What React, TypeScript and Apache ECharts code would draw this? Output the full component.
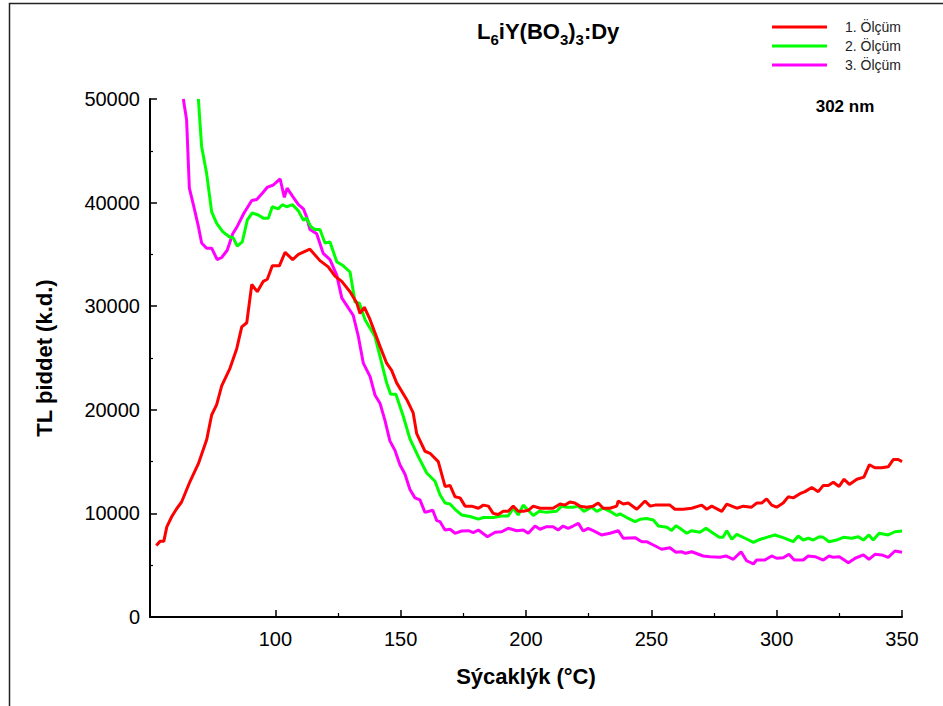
import React, { useEffect, useRef } from "react";
import * as echarts from "echarts";

// Temperature (°C) and TL intensity (a.u.) pairs for the three measurements
const olcum1: [number, number][] = [
  [52.5, 6900], [54, 7300], [55.5, 7300], [56.7, 8700], [58.7, 9700], [60.5, 10400], [62.6, 11100],
  [66, 13100], [69.3, 14800], [72.6, 17100], [74.6, 19500], [76.6, 20500], [78.6, 22300], [81.9, 24000],
  [84.6, 25900], [86.6, 28000], [88.6, 28400], [90.6, 32100], [92.8, 31400], [95.2, 32400], [96.8, 32600],
  [98.8, 33900], [101.6, 33900], [103.9, 35200], [106.9, 34500], [109.2, 35000], [113.8, 35500],
  [117.8, 34400], [121.1, 33800], [123.8, 32900], [126.5, 32400], [129.8, 31400], [132.5, 30300],
  [133.8, 29300], [135.5, 29900], [137.8, 28700], [141.8, 26100], [144.4, 24500], [146.4, 23800],
  [148.4, 22600], [152.4, 21000], [155, 19700], [156.4, 17700], [159.7, 16000], [161.7, 15800],
  [165, 15000], [167.7, 12600], [169.7, 12700], [171.7, 11600], [173.7, 11500], [175.7, 10700],
  [178.3, 10700], [181, 10500], [183, 10800], [185, 10700], [186.9, 10000], [188.9, 9900], [190.9, 10200],
  [192.9, 10200], [194.9, 10700], [196.9, 10200], [198.9, 10200], [200.9, 10300], [202.9, 10700],
  [205.6, 10500], [208.2, 10500], [210.8, 10500], [213.6, 10900], [215.6, 10800], [217.5, 11100],
  [219.5, 11000], [221.5, 10700], [224.2, 10600], [226.8, 10700], [228.8, 11000], [230.8, 10500],
  [233.5, 10500], [236.2, 10700], [236.8, 11200], [238.8, 10900], [240.8, 11000], [244.2, 10400],
  [247.5, 11200], [249.5, 10700], [251.5, 10800], [254.1, 10800], [257.4, 10800], [259.4, 10400],
  [262.7, 10400], [266.1, 10500], [270.1, 10800], [272.1, 10400], [274.1, 10700], [278.1, 10200],
  [280.1, 10900], [284.1, 10500], [286.7, 10700], [290, 10600], [292, 11000], [294, 11000], [296, 11400],
  [298, 10800], [300, 10600], [302.6, 11000], [304.6, 11600], [306.6, 11500], [309.3, 11900],
  [311.3, 12100], [314, 12500], [316.6, 12100], [318.6, 12700], [320.6, 12700], [322.6, 13000],
  [324.9, 12600], [326.9, 13300], [329, 12800], [332, 13300], [334.8, 13500], [337, 14700],
  [339.2, 14400], [341.9, 14400], [344.5, 14500], [346.5, 15200], [348.5, 15200], [350, 15000],
];

const olcum2: [number, number][] = [
  [69.3, 50000], [70.6, 45400], [72.6, 42800], [74.6, 39100], [76.6, 38000], [79, 37200], [81.6, 36700],
  [83.2, 36600], [84.8, 35800], [86.8, 36200], [88.8, 38300], [90.8, 39000], [93.2, 38800], [95.2, 38500],
  [97.2, 38500], [98.8, 39600], [101.2, 39400], [102.8, 39800], [104.5, 39600], [106.9, 39800],
  [109.2, 39200], [111.2, 38300], [112.5, 38500], [114.1, 37700], [115.8, 37400], [117.8, 37400],
  [119.8, 36100], [121.8, 36200], [124.5, 34300], [127.1, 33900], [129.8, 33300], [131.8, 30400],
  [133.5, 30300], [135.8, 28700], [139.7, 27100], [141.8, 25100], [144.4, 22600], [146, 21500],
  [148.1, 21500], [151, 19400], [153.7, 17200], [157, 15500], [160.4, 13900], [163.7, 13100],
  [165.7, 11800], [167.7, 11000], [169.7, 10900], [171.7, 10400], [174.3, 9850], [177.7, 9700],
  [181, 9450], [183, 9600], [186.9, 9600], [190.3, 9750], [192.9, 9750], [194.9, 10500], [196.9, 9850],
  [198.9, 10800], [200.9, 10300], [202.9, 9800], [205.3, 10200], [208.2, 10100], [212.2, 10200],
  [214.2, 10700], [216.2, 10600], [218.8, 10600], [220.9, 10700], [223.1, 10200], [226.2, 10600],
  [228.2, 10200], [230.8, 10500], [233.5, 10200], [236.2, 9800], [237.5, 9950], [240.2, 9600],
  [243.5, 9200], [245.5, 9430], [248.1, 9500], [250.8, 9360], [252.8, 8780], [256.2, 8660],
  [258.1, 8350], [259.8, 8800], [261.4, 8560], [264.1, 8080], [266.1, 8330], [269.4, 8180],
  [271.8, 8560], [274.1, 8180], [277.1, 7700], [278.6, 7700], [280.1, 8330], [282.1, 7500],
  [284.1, 7980], [288, 7530], [290.7, 7210], [292.7, 7430], [296, 7690], [299.3, 7920], [302.6, 7660],
  [306.6, 7270], [308.6, 7820], [310.6, 7430], [312.6, 7600], [314.6, 7430], [317, 7750], [318.6, 7690],
  [320.9, 7270], [323.9, 7430], [326.6, 7690], [329.9, 7600], [332.6, 7750], [334.6, 7430],
  [336.8, 7920], [338.5, 7430], [340.9, 8080], [344.5, 7920], [347.2, 8230], [350, 8300],
];

const olcum3: [number, number][] = [
  [63.3, 50000], [64.6, 48000], [65.7, 41400], [67.3, 39800], [69.3, 37700], [70.6, 36100], [72.6, 35600],
  [74.6, 35600], [76.8, 34500], [78.6, 34700], [80.8, 35400], [83, 37000], [84.8, 37700], [87.5, 39000],
  [90.6, 40200], [92.6, 40300], [94.8, 40900], [96.9, 41500], [99.2, 41700], [101.9, 42300],
  [103.6, 40500], [104.7, 41400], [106.9, 40600], [109.2, 39800], [111.2, 39400], [112.5, 38600],
  [113.8, 37400], [116.5, 37000], [119.1, 35100], [121.8, 34500], [124.5, 33000], [126.5, 30800],
  [128.4, 30100], [131.1, 29100], [133.1, 27100], [135.1, 24500], [137.8, 23200], [139.8, 21400],
  [141.8, 20600], [143.7, 19000], [145.7, 17000], [147.7, 16100], [149.7, 14700], [151.7, 13800],
  [153.7, 12300], [155.7, 11500], [157.7, 11300], [159.7, 10100], [162.8, 10300], [164.4, 9300],
  [165.7, 9200], [167.7, 8400], [169.7, 8470], [171.7, 8080], [174.3, 8300], [177, 8330], [179, 8140],
  [181, 8400], [184.6, 7750], [187.7, 8180], [190.3, 8230], [192.9, 8560], [196.3, 8330], [198.9, 8400],
  [200.9, 8080], [203.6, 8780], [205.6, 8470], [208.2, 8720], [210.8, 8720], [212.8, 8400],
  [214.8, 8780], [216.8, 8560], [218.8, 8780], [220.9, 9040], [222.8, 8300], [224.8, 8560],
  [226.8, 8330], [230.1, 7920], [233.5, 8080], [236.8, 8330], [238.8, 7600], [243.5, 7660],
  [246.2, 7270], [248.1, 7270], [250.8, 6950], [254.1, 6540], [257.4, 6680], [259.8, 6250], [262, 6300],
  [263.7, 6150], [266.1, 6300], [270.7, 5890], [273.4, 5820], [277.4, 5760], [279.8, 5890],
  [282.7, 5570], [285.8, 6300], [288, 5430], [290.7, 5120], [292, 5500], [295.3, 5500], [298, 5890],
  [300, 5670], [302.6, 5720], [304.9, 6050], [307, 5500], [310.6, 5500], [312.6, 5890], [315.3, 5820],
  [318.6, 5500], [320.9, 5890], [322.6, 5760], [325, 5820], [328.6, 5240], [331.3, 5670], [334.6, 5990],
  [336.8, 5570], [339.2, 6050], [341.9, 5990], [344.5, 5760], [347.2, 6370], [350, 6250],
];

const seriesNames = ["1. Ölçüm", "2. Ölçüm", "3. Ölçüm"];
const seriesColors = ["#ff0000", "#00ff00", "#ff00ff"];
const xMajorTicks = [100, 150, 200, 250, 300, 350];
const xMinorTicks = [125, 175, 225, 275, 325];

const FONT = "'Liberation Sans', Arial, Helvetica, sans-serif";
const INK = "#000000";

export default function App() {
  const ref = useRef<HTMLDivElement>(null);

  useEffect(() => {
    if (!ref.current) return;
    const chart = echarts.init(ref.current, null, { renderer: "svg" });
    const datasets = [olcum1, olcum2, olcum3];

    chart.setOption({
      animation: false,
      backgroundColor: "#ffffff",
      textStyle: { fontFamily: FONT },
      grid: { left: 150, right: 41, top: 99, bottom: 89, containLabel: false },
      legend: {
        orient: "vertical",
        left: 772,
        top: 20,
        padding: 0,
        icon: "rect",
        itemWidth: 55,
        itemHeight: 3,
        itemGap: 5,
        selectedMode: false,
        textStyle: { fontSize: 14, lineHeight: 14, color: "#222", fontFamily: FONT, padding: [0, 0, 0, 13] },
        data: seriesNames,
      },
      xAxis: [
        {
          type: "value",
          min: 50,
          max: 350,
          interval: 50,
          name: "Sýcaklýk (°C)",
          nameLocation: "middle",
          nameGap: 48,
          nameTextStyle: { fontSize: 22, fontWeight: "bold", color: INK, fontFamily: FONT },
          axisLine: { show: true, lineStyle: { color: INK, width: 2 } },
          axisTick: { show: true, inside: true, length: 7, lineStyle: { color: INK, width: 1.5 }, customValues: xMajorTicks },
          axisLabel: { fontSize: 20, color: INK, margin: 12, fontFamily: FONT, customValues: xMajorTicks },
          splitLine: { show: false },
        },
        {
          type: "value",
          min: 50,
          max: 350,
          position: "bottom",
          axisLine: { show: false },
          axisTick: { show: true, inside: true, length: 4, lineStyle: { color: INK, width: 1.2 }, customValues: xMinorTicks },
          axisLabel: { show: false },
          splitLine: { show: false },
        },
      ],
      yAxis: {
        type: "value",
        min: 0,
        max: 50000,
        interval: 10000,
        name: "TL þiddet (k.d.)",
        nameLocation: "middle",
        nameGap: 95,
        nameTextStyle: { fontSize: 22, fontWeight: "bold", color: INK, fontFamily: FONT },
        axisLine: { show: true, lineStyle: { color: INK, width: 2 } },
        axisTick: { show: true, inside: true, length: 7, lineStyle: { color: INK, width: 1.5 } },
        minorTick: { show: true, splitNumber: 2, length: 3, lineStyle: { color: INK, width: 1.2 } },
        axisLabel: { fontSize: 20, color: INK, margin: 10, fontFamily: FONT, formatter: (v: number) => String(v) },
        splitLine: { show: false },
        minorSplitLine: { show: false },
      },
      series: datasets.map((d, i) => ({
        name: seriesNames[i],
        type: "line",
        xAxisIndex: 0,
        data: d,
        showSymbol: false,
        symbol: "none",
        smooth: false,
        clip: true,
        color: seriesColors[i],
        lineStyle: { color: seriesColors[i], width: 3 },
        z: 3 - i,
      })),
      graphic: [
        {
          type: "polyline",
          shape: { points: [[9.5, 706], [9.5, 3.5], [943, 3.5]] },
          style: { stroke: "#222", lineWidth: 1.5, fill: null },
          silent: true,
        },
        {
          type: "text",
          x: 477,
          y: 15,
          style: {
            text: "{m|L}{s|6}{m|iY(BO}{s|3}{m|)}{s|3}{m|:Dy}",
            fill: INK,
            rich: {
              m: { fontSize: 22, fontWeight: "bold", fontFamily: FONT, lineHeight: 32, verticalAlign: "middle", fill: INK },
              s: { fontSize: 15, fontWeight: "bold", fontFamily: FONT, lineHeight: 15, verticalAlign: "bottom", fill: INK },
            },
          },
        },
        {
          type: "text",
          x: 845,
          y: 106,
          style: {
            text: "302 nm",
            fontSize: 17,
            fontWeight: "bold",
            fontFamily: FONT,
            fill: INK,
            align: "center",
            verticalAlign: "middle",
          },
        },
      ],
    });

    return () => chart.dispose();
  }, []);

  return (
    <div
      ref={ref}
      style={{ position: "absolute", left: 0, top: 0, width: 943, height: 706, background: "#fff" }}
    />
  );
}
